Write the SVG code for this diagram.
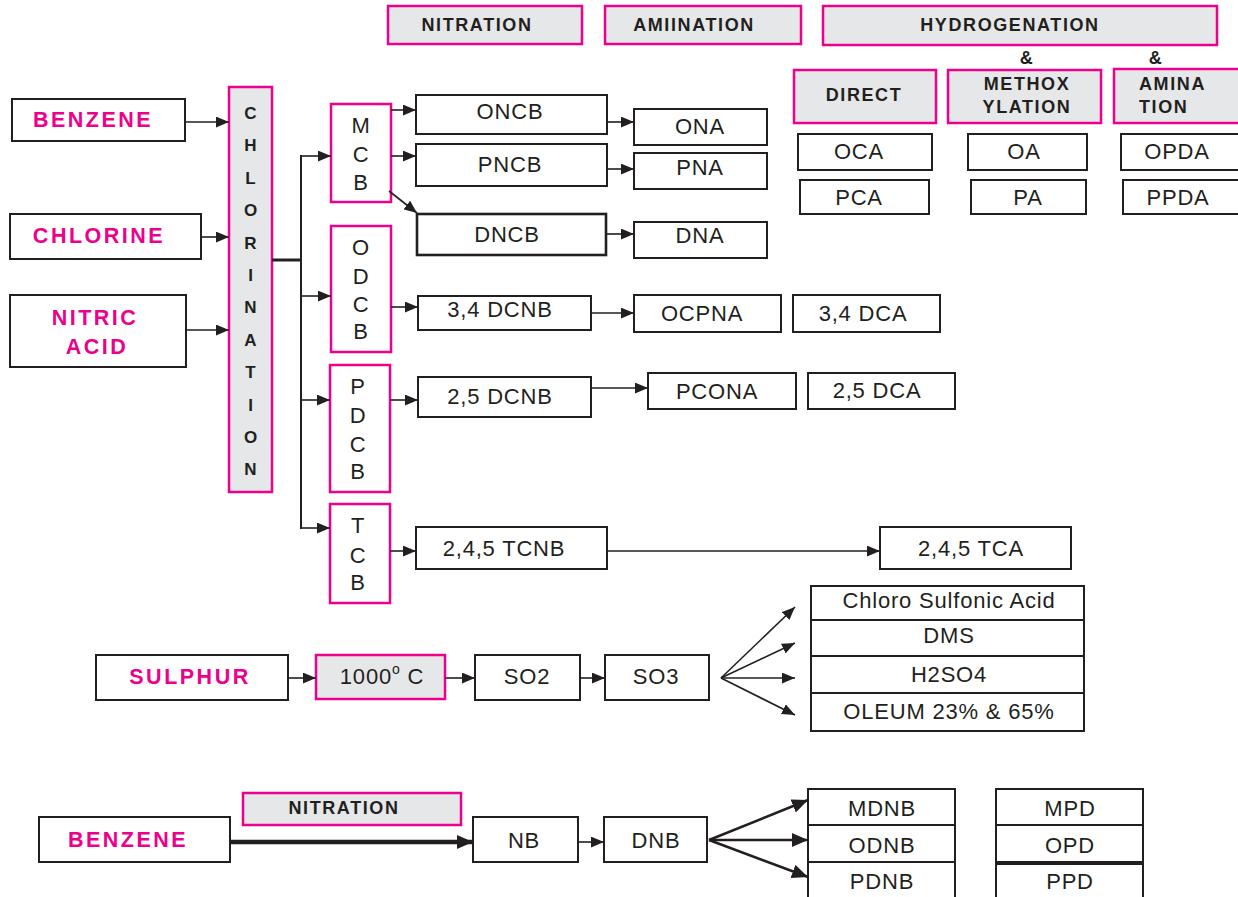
<svg xmlns="http://www.w3.org/2000/svg" width="1238" height="897" viewBox="0 0 1238 897">
<defs>
<style>
.box{fill:#fff;stroke:#231f20;stroke-width:2}
.pk{fill:#fff;stroke:#ec008c;stroke-width:2.5}
.hdr{fill:#e6e7e8;stroke:#ec008c;stroke-width:2.5}
.t{font-family:"Liberation Sans",Arial,sans-serif;font-size:22px;letter-spacing:0.8px;fill:#231f20;text-anchor:middle}
.tl{font-size:22px}
.h{font-family:"Liberation Sans",Arial,sans-serif;font-size:18px;font-weight:bold;letter-spacing:1.6px;fill:#231f20;text-anchor:middle}
.hl{text-anchor:start}
.p{font-family:"Liberation Sans",Arial,sans-serif;font-size:21.5px;font-weight:bold;letter-spacing:2.5px;fill:#ec008c;text-anchor:middle}
.c{font-family:"Liberation Sans",Arial,sans-serif;font-size:17px;font-weight:bold;fill:#231f20;text-anchor:middle}
.ln{fill:none;stroke:#231f20;stroke-width:1.6}
.thick{stroke-width:3}
.vthick{stroke-width:4.5}
.mthick{stroke-width:2.5}
.dbox{stroke-width:2.6}
</style>
<marker id="ah" viewBox="0 0 12 10" refX="12" refY="5" markerWidth="13" markerHeight="11" markerUnits="userSpaceOnUse" orient="auto"><path d="M0,0 L12,5 L0,10 z" fill="#231f20"/></marker>
<marker id="ahb" viewBox="0 0 16 14" refX="16" refY="7" markerWidth="16" markerHeight="14" markerUnits="userSpaceOnUse" orient="auto"><path d="M0,0 L16,7 L0,14 z" fill="#231f20"/></marker>
</defs>
<rect width="1238" height="897" fill="#fff"/>

<!-- headers -->
<g id="h-nitration"><rect class="hdr" x="388" y="6" width="194" height="38"/><text class="h" x="477" y="31">NITRATION</text></g>
<g id="h-amination"><rect class="hdr" x="605" y="6" width="196" height="38"/><text class="h" x="694" y="31">AMIINATION</text></g>
<g id="h-hydrogenation"><rect class="hdr" x="823" y="6" width="394" height="39"/><text class="h" x="1010" y="31">HYDROGENATION</text></g>
<g id="amp1"><text class="h" x="1027" y="64">&amp;</text></g>
<g id="amp2"><text class="h" x="1156" y="64">&amp;</text></g>
<g id="h-direct"><rect class="hdr" x="794" y="70" width="142" height="53"/><text class="h" x="864" y="101">DIRECT</text></g>
<g id="h-methox"><rect class="hdr" x="948" y="70" width="153" height="53"/><text class="h" x="1027" y="90">METHOX</text><text class="h" x="1027" y="113">YLATION</text></g>
<g id="h-amina"><rect class="hdr" x="1114" y="69" width="130" height="54"/><text class="h hl" x="1139" y="90">AMINA</text><text class="h hl" x="1139" y="113">TION</text></g>

<!-- hydrogenation products -->
<g id="oca"><rect class="box" x="798" y="134" width="134" height="36"/><text class="t" x="859" y="159">OCA</text></g>
<g id="pca"><rect class="box" x="800" y="180" width="129" height="34"/><text class="t" x="859" y="205">PCA</text></g>
<g id="oa"><rect class="box" x="968" y="134" width="119" height="36"/><text class="t" x="1024" y="159">OA</text></g>
<g id="pa"><rect class="box" x="971" y="180" width="115" height="34"/><text class="t" x="1028" y="205">PA</text></g>
<g id="opda"><rect class="box" x="1121" y="134" width="122" height="36"/><text class="t" x="1177" y="159">OPDA</text></g>
<g id="ppda"><rect class="box" x="1123" y="180" width="120" height="34"/><text class="t" x="1178" y="205">PPDA</text></g>

<!-- inputs -->
<g id="in-benzene"><rect class="box" x="12" y="99" width="173" height="42"/><text class="p" x="93" y="127">BENZENE</text></g>
<g id="in-chlorine"><rect class="box" x="10" y="214" width="191" height="45"/><text class="p" x="99" y="243">CHLORINE</text></g>
<g id="in-nitric"><rect class="box" x="10" y="295" width="176" height="72"/><text class="p" x="95" y="325">NITRIC</text><text class="p" x="97" y="354">ACID</text></g>

<!-- chlorination -->
<g id="chlorination"><rect class="hdr" x="229" y="87" width="43" height="405"/>
<text class="c" x="250.5" y="119">C</text><text class="c" x="250.5" y="151.4">H</text><text class="c" x="250.5" y="183.8">L</text><text class="c" x="250.5" y="216.2">O</text><text class="c" x="250.5" y="248.6">R</text><text class="c" x="250.5" y="281">I</text><text class="c" x="250.5" y="313.4">N</text><text class="c" x="250.5" y="345.8">A</text><text class="c" x="250.5" y="378.2">T</text><text class="c" x="250.5" y="410.6">I</text><text class="c" x="250.5" y="443">O</text><text class="c" x="250.5" y="475.4">N</text></g>

<!-- chlorobenzenes -->
<g id="mcb"><rect class="pk" x="331" y="104" width="60" height="98"/><text class="t tl" x="361" y="133">M</text><text class="t tl" x="361" y="162">C</text><text class="t tl" x="361" y="190">B</text></g>
<g id="odcb"><rect class="pk" x="331" y="226" width="60" height="126"/><text class="t tl" x="361" y="255">O</text><text class="t tl" x="361" y="284">D</text><text class="t tl" x="361" y="312">C</text><text class="t tl" x="361" y="339">B</text></g>
<g id="pdcb"><rect class="pk" x="330" y="365" width="60" height="127"/><text class="t tl" x="358" y="394">P</text><text class="t tl" x="358" y="423">D</text><text class="t tl" x="358" y="452">C</text><text class="t tl" x="358" y="479">B</text></g>
<g id="tcb"><rect class="pk" x="330" y="504" width="60" height="99"/><text class="t tl" x="358" y="533">T</text><text class="t tl" x="358" y="563">C</text><text class="t tl" x="358" y="590">B</text></g>

<!-- nitration products -->
<g id="oncb"><rect class="box" x="416" y="95" width="191" height="39"/><text class="t" x="510" y="119">ONCB</text></g>
<g id="pncb"><rect class="box" x="416" y="144" width="191" height="42"/><text class="t" x="510" y="172">PNCB</text></g>
<g id="dncb"><rect class="box dbox" x="417" y="214" width="189" height="41"/><text class="t" x="507" y="242">DNCB</text></g>
<g id="dcnb34"><rect class="box" x="418" y="296" width="173" height="34"/><text class="t" x="500" y="317">3,4 DCNB</text></g>
<g id="dcnb25"><rect class="box" x="418" y="377" width="173" height="40"/><text class="t" x="500" y="404">2,5 DCNB</text></g>
<g id="tcnb"><rect class="box" x="416" y="527" width="191" height="42"/><text class="t" x="504" y="556">2,4,5 TCNB</text></g>

<!-- amination products -->
<g id="ona"><rect class="box" x="634" y="109" width="133" height="36"/><text class="t" x="700" y="134">ONA</text></g>
<g id="pna"><rect class="box" x="634" y="153" width="133" height="36"/><text class="t" x="700" y="175">PNA</text></g>
<g id="dna"><rect class="box" x="634" y="222" width="133" height="36"/><text class="t" x="700" y="243">DNA</text></g>
<g id="ocpna"><rect class="box" x="634" y="295" width="147" height="37"/><text class="t" x="702" y="321">OCPNA</text></g>
<g id="dca34"><rect class="box" x="793" y="295" width="147" height="37"/><text class="t" x="863" y="321">3,4 DCA</text></g>
<g id="pcona"><rect class="box" x="648" y="373" width="148" height="36"/><text class="t" x="717" y="399">PCONA</text></g>
<g id="dca25"><rect class="box" x="808" y="373" width="147" height="36"/><text class="t" x="877" y="398">2,5 DCA</text></g>
<g id="tca"><rect class="box" x="880" y="527" width="191" height="42"/><text class="t" x="971" y="556">2,4,5 TCA</text></g>

<!-- sulphur -->
<g id="sulphur"><rect class="box" x="96" y="655" width="192" height="45"/><text class="p" x="190" y="684">SULPHUR</text></g>
<g id="temp"><rect class="hdr" x="316" y="655" width="129" height="44"/><text class="t" x="382" y="684">1000<tspan font-size="14" dy="-10">o</tspan><tspan dy="10"> C</tspan></text></g>
<g id="so2"><rect class="box" x="475" y="655" width="105" height="45"/><text class="t" x="527" y="684">SO2</text></g>
<g id="so3"><rect class="box" x="605" y="655" width="104" height="45"/><text class="t" x="656" y="684">SO3</text></g>
<g id="csa"><rect class="box" x="811" y="586" width="273" height="34"/><text class="t" x="949" y="608">Chloro Sulfonic Acid</text></g>
<g id="dms"><rect class="box" x="811" y="620" width="273" height="36"/><text class="t" x="949" y="643">DMS</text></g>
<g id="h2so4"><rect class="box" x="811" y="656" width="273" height="37"/><text class="t" x="949" y="682">H2SO4</text></g>
<g id="oleum"><rect class="box" x="811" y="693" width="273" height="38"/><text class="t" x="949" y="719">OLEUM 23% &amp; 65%</text></g>

<!-- bottom benzene -->
<g id="b-benzene"><rect class="box" x="39" y="817" width="191" height="45"/><text class="p" x="128" y="847">BENZENE</text></g>
<g id="b-nitration"><rect class="hdr" x="243" y="793" width="218" height="32"/><text class="h" x="344" y="814">NITRATION</text></g>
<g id="nb"><rect class="box" x="473" y="817" width="105" height="45"/><text class="t" x="524" y="848">NB</text></g>
<g id="dnb"><rect class="box" x="604" y="817" width="103" height="45"/><text class="t" x="656" y="848">DNB</text></g>
<g id="mdnb"><rect class="box" x="808" y="789" width="147" height="36"/><text class="t" x="882" y="816">MDNB</text></g>
<g id="odnb"><rect class="box" x="808" y="825" width="147" height="37"/><text class="t" x="882" y="853">ODNB</text></g>
<g id="pdnb"><rect class="box" x="808" y="862" width="147" height="40"/><text class="t" x="882" y="889">PDNB</text></g>
<g id="mpd"><rect class="box" x="996" y="789" width="147" height="36"/><text class="t" x="1070" y="816">MPD</text></g>
<g id="opd"><rect class="box" x="996" y="825" width="147" height="37"/><text class="t" x="1070" y="853">OPD</text></g>
<g id="ppd"><rect class="box" x="996" y="864" width="147" height="38"/><text class="t" x="1070" y="889">PPD</text></g>

<!-- connectors -->
<g id="connectors">
<line class="ln" x1="185" y1="122" x2="229" y2="122" marker-end="url(#ah)"/>
<line class="ln" x1="201" y1="237" x2="229" y2="237" marker-end="url(#ah)"/>
<line class="ln" x1="186" y1="330" x2="229" y2="330" marker-end="url(#ah)"/>
<line class="ln thick" x1="272" y1="260" x2="302" y2="260"/>
<line class="ln" x1="301" y1="155" x2="301" y2="529" style="stroke-width:2"/>
<line class="ln" x1="300" y1="156" x2="331" y2="156" marker-end="url(#ah)"/>
<line class="ln" x1="300" y1="296" x2="331" y2="296" marker-end="url(#ah)"/>
<line class="ln" x1="300" y1="400" x2="330" y2="400" marker-end="url(#ah)"/>
<line class="ln" x1="300" y1="528" x2="330" y2="528" marker-end="url(#ah)"/>
<line class="ln" x1="391" y1="110" x2="416" y2="110" marker-end="url(#ah)"/>
<line class="ln" x1="391" y1="156" x2="416" y2="156" marker-end="url(#ah)"/>
<line class="ln" x1="389" y1="191" x2="417" y2="213" marker-end="url(#ah)"/>
<line class="ln" x1="607" y1="122" x2="634" y2="122" marker-end="url(#ah)"/>
<line class="ln" x1="607" y1="169" x2="634" y2="169" marker-end="url(#ah)"/>
<line class="ln" x1="606" y1="234" x2="634" y2="234" marker-end="url(#ah)"/>
<line class="ln" x1="391" y1="307" x2="418" y2="307" marker-end="url(#ah)"/>
<line class="ln" x1="591" y1="313" x2="634" y2="313" marker-end="url(#ah)"/>
<line class="ln" x1="390" y1="400" x2="418" y2="400" marker-end="url(#ah)"/>
<line class="ln" x1="591" y1="388" x2="648" y2="388" marker-end="url(#ah)"/>
<line class="ln" x1="390" y1="551" x2="416" y2="551" marker-end="url(#ah)"/>
<line class="ln" x1="607" y1="551" x2="880" y2="551" marker-end="url(#ah)"/>
<line class="ln" x1="288" y1="678" x2="316" y2="678" marker-end="url(#ah)"/>
<line class="ln" x1="445" y1="678" x2="475" y2="678" marker-end="url(#ah)"/>
<line class="ln" x1="580" y1="678" x2="605" y2="678" marker-end="url(#ah)"/>
<line class="ln" x1="721" y1="678" x2="795" y2="607" marker-end="url(#ah)"/>
<line class="ln" x1="721" y1="678" x2="795" y2="643" marker-end="url(#ah)"/>
<line class="ln" x1="721" y1="678" x2="795" y2="678" marker-end="url(#ah)"/>
<line class="ln" x1="721" y1="678" x2="795" y2="715" marker-end="url(#ah)"/>
<line class="ln vthick" x1="230" y1="842" x2="473" y2="842" marker-end="url(#ahb)"/>
<line class="ln" x1="578" y1="842" x2="604" y2="842" marker-end="url(#ah)"/>
<line class="ln mthick" x1="709" y1="840" x2="808" y2="800" marker-end="url(#ahb)"/>
<line class="ln mthick" x1="709" y1="840" x2="808" y2="840" marker-end="url(#ahb)"/>
<line class="ln mthick" x1="709" y1="840" x2="808" y2="877" marker-end="url(#ahb)"/>
</g>
</svg>
